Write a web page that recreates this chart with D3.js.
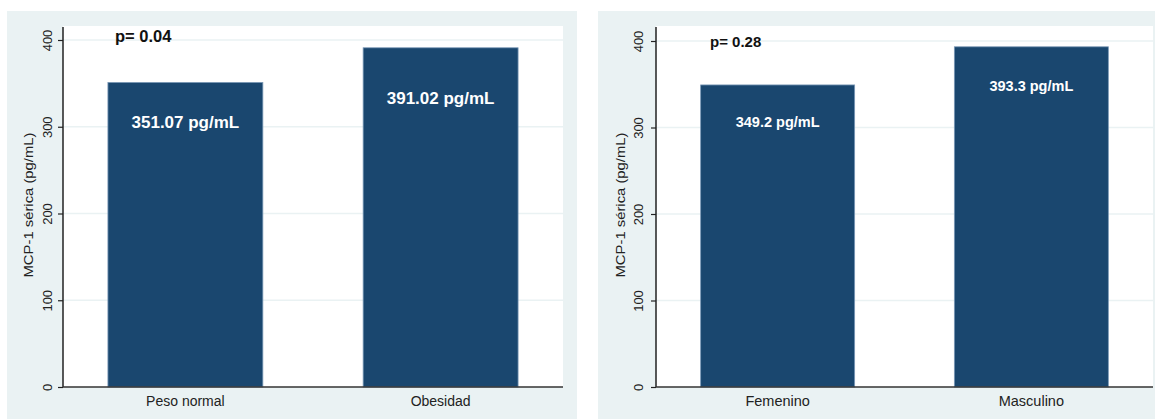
<!DOCTYPE html>
<html>
<head>
<meta charset="utf-8">
<script src="https://cdn.jsdelivr.net/npm/d3@7"></script>
<style>
  html, body { margin: 0; padding: 0; background: #ffffff; }
  svg { display: block; font-family: "Liberation Sans", Arial, sans-serif; }
</style>
</head>
<body>
<svg id="chart" width="1155" height="419"></svg>
<script>
// Serum MCP-1 by group: nutritional status (left) and sex (right)
const weightCategories = ["Peso normal", "Obesidad"];
const weightValues = [351.07, 391.02];
const weightPValue = "p= 0.04";

const sexCategories = ["Femenino", "Masculino"];
const sexValues = [349.2, 393.3];
const sexPValue = "p= 0.28";

const yTicks = [0, 100, 200, 300, 400];
const yTitle = "MCP-1 sérica (pg/mL)";
const unit = "pg/mL";

const BAR = "#1a476f";
const BAR_EDGE = "#7a98b6";
const PANEL_BG = "#eaf2f3";
const GRID = "#eaf2f3";

const svg = d3.select("#chart");

function drawPanel(cfg) {
  const g = svg.append("g");

  // outer panel background and white plot region
  g.append("rect").attr("x", cfg.bg[0]).attr("y", cfg.bg[1])
    .attr("width", cfg.bg[2]).attr("height", cfg.bg[3]).attr("fill", PANEL_BG);
  g.append("rect").attr("x", cfg.x0).attr("y", cfg.top)
    .attr("width", cfg.x1 - cfg.x0).attr("height", cfg.base - cfg.top).attr("fill", "#ffffff");

  const y = d3.scaleLinear().domain([0, 400]).range([cfg.base, cfg.y400]);
  const x = d3.scaleBand().domain(cfg.categories).range([cfg.x0, cfg.x1])
    .paddingInner(0.393).paddingOuter(0.176);

  // horizontal grid
  g.selectAll(".grid").data(yTicks.filter(t => t > 0)).join("line")
    .attr("x1", cfg.x0).attr("x2", cfg.x1)
    .attr("y1", d => y(d)).attr("y2", d => y(d))
    .attr("stroke", GRID).attr("stroke-width", 1.5);

  // bars
  g.selectAll(".bar").data(cfg.values).join("rect")
    .attr("x", (d, i) => x(cfg.categories[i]))
    .attr("y", d => y(d))
    .attr("width", x.bandwidth())
    .attr("height", d => y(0) - y(d))
    .attr("fill", BAR).attr("stroke", BAR_EDGE).attr("stroke-width", 0.8);

  // value labels inside bars
  g.selectAll(".val").data(cfg.values).join("text")
    .attr("x", (d, i) => x(cfg.categories[i]) + x.bandwidth() / 2)
    .attr("y", (d, i) => y(d) + cfg.labelDy[i])
    .attr("text-anchor", "middle")
    .attr("fill", "#ffffff").attr("font-weight", "bold")
    .attr("font-size", cfg.labelSize)
    .text(d => `${d} ${unit}`);

  // y axis
  const yAxis = d3.axisLeft(y).tickValues(yTicks).tickSize(5).tickFormat(d3.format("d"));
  const ya = g.append("g").attr("transform", `translate(${cfg.x0},0)`).call(yAxis);
  ya.select(".domain").remove();
  ya.selectAll(".tick line").attr("stroke", "#222").attr("stroke-width", 1.2);
  ya.selectAll(".tick text")
    .attr("x", null).attr("dy", null)
    .attr("transform", `translate(${cfg.tickX - cfg.x0},0) rotate(-90)`)
    .attr("text-anchor", "middle")
    .attr("font-size", 13).attr("fill", "#222")
    .attr("font-family", "Liberation Sans, Arial, sans-serif");
  g.append("line").attr("x1", cfg.x0).attr("x2", cfg.x0)
    .attr("y1", cfg.top + 1).attr("y2", cfg.base)
    .attr("stroke", "#222").attr("stroke-width", 1.5);

  // x axis baseline and category labels
  g.append("line").attr("x1", cfg.x0).attr("x2", cfg.x1)
    .attr("y1", cfg.base).attr("y2", cfg.base)
    .attr("stroke", "#333").attr("stroke-width", 1.5);
  g.selectAll(".cat").data(cfg.categories).join("text")
    .attr("x", d => x(d) + x.bandwidth() / 2)
    .attr("y", 406)
    .attr("text-anchor", "middle")
    .attr("font-size", cfg.catSize).attr("fill", "#222")
    .text(d => d);

  // axis title
  g.append("text")
    .attr("transform", `translate(${cfg.titleX},205) rotate(-90)`)
    .attr("text-anchor", "middle")
    .attr("font-size", 13).attr("fill", "#222")
    .attr("textLength", 145).attr("lengthAdjust", "spacingAndGlyphs")
    .text(yTitle);

  // p-value annotation
  g.append("text")
    .attr("x", cfg.pX).attr("y", cfg.pY)
    .attr("font-size", cfg.pSize).attr("font-weight", "bold").attr("fill", "#111")
    .text(cfg.p);
}

drawPanel({
  categories: weightCategories, values: weightValues, p: weightPValue,
  bg: [7, 11, 570, 408], x0: 63, x1: 563, top: 26, base: 387, y400: 40,
  labelDy: [46, 56], labelSize: 17, tickX: 52, titleX: 33, catSize: 14,
  pX: 115, pY: 42, pSize: 16.5
});

drawPanel({
  categories: sexCategories, values: sexValues, p: sexPValue,
  bg: [598, 11, 557, 408], x0: 656, x1: 1153, top: 26, base: 387, y400: 41,
  labelDy: [42, 44], labelSize: 14.5, tickX: 643, titleX: 625, catSize: 14.5,
  pX: 710, pY: 47, pSize: 15
});
</script>
</body>
</html>
